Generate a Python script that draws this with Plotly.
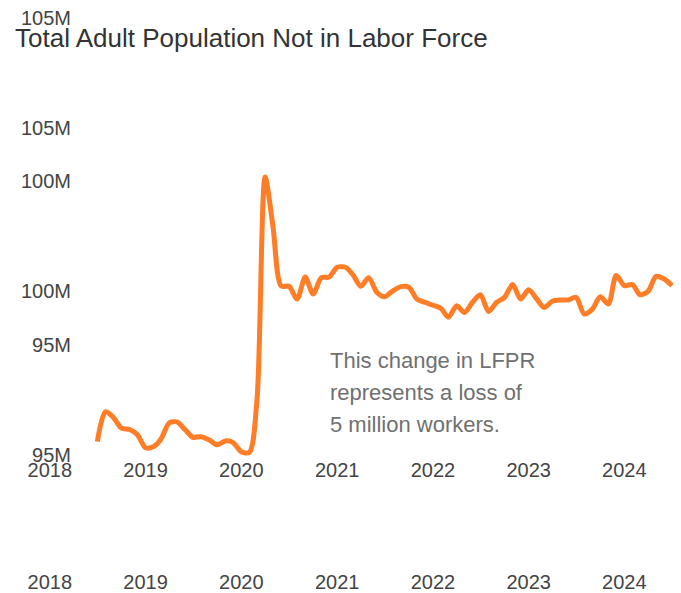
import plotly.graph_objects as go
import pandas as pd

# Monthly values, Jul 2018 - Jul 2024 (millions)
months = pd.date_range("2018-07-01", periods=73, freq="MS")
not_in_lf = [
    95.41, 96.32, 96.14, 95.82, 95.78, 95.62, 95.22, 95.26, 95.49, 95.98, 96.01, 95.77,
    95.54, 95.56, 95.46, 95.31, 95.43, 95.38, 95.10, 95.08, 96.69, 103.50, 101.98, 100.17,
    100.16, 99.77, 100.44, 99.92, 100.42, 100.44, 100.74, 100.74, 100.52, 100.16, 100.42, 99.98,
    99.84, 100.02, 100.15, 100.13, 99.77, 99.67, 99.58, 99.48, 99.21, 99.56, 99.36, 99.67,
    99.90, 99.39, 99.67, 99.82, 100.21, 99.77, 100.05, 99.77, 99.51, 99.70, 99.74, 99.74,
    99.82, 99.31, 99.46, 99.84, 99.62, 100.49, 100.18, 100.21, 99.90, 100.01, 100.46, 100.38,
    100.18,
]
y_tickvals = [95, 100, 105]
y_ticktext = ["95M", "100M", "105M"]
title_text = "Total Adult Population Not in Labor Force"
note_lines = ["This change in LFPR", "represents a loss of", "5 million workers."]

TICK_FONT = dict(family="Liberation Sans, Arial, sans-serif", size=20, color="#444444")

fig = go.Figure()
fig.add_trace(go.Scatter(
    x=months, y=not_in_lf, mode="lines",
    line=dict(color="#FE7D26", width=5, shape="spline", smoothing=0.8),
    showlegend=False, hoverinfo="skip",
))
# empty companion trace so the duplicated axis pair is drawn
fig.add_trace(go.Scatter(x=[], y=[], xaxis="x2", yaxis="y2", showlegend=False, hoverinfo="skip"))

xcommon = dict(
    type="date", range=["2017-08-02", "2024-07-16"], tick0="2018-01-01", dtick="M12",
    tickformat="%Y", showgrid=False, zeroline=False, showline=False, ticks="",
    tickfont=TICK_FONT, automargin=False,
)
ycommon = dict(
    tickvals=y_tickvals, ticktext=y_ticktext, showgrid=False, zeroline=False,
    showline=False, ticks="", tickfont=TICK_FONT, automargin=False,
)

fig.update_layout(
    width=681, height=593,
    margin=dict(l=10, r=5, t=5, b=25),
    paper_bgcolor="white", plot_bgcolor="white",
    xaxis=dict(**xcommon, anchor="free", position=0.199),
    xaxis2=dict(**xcommon, overlaying="x", anchor="y2", side="bottom"),
    yaxis=dict(**ycommon, range=[91.544, 108.761], anchor="free", position=0.0916),
    yaxis2=dict(**ycommon, range=[88.180, 105.397], overlaying="y", anchor="free", position=0.0916, side="left"),
    title=dict(
        text=title_text, x=15 / 681, xanchor="left", xref="container",
        y=1 - 38 / 593, yanchor="middle", yref="container",
        font=dict(family="Liberation Sans, Arial, sans-serif", size=26, color="#333333"),
    ),
)

for i, line in enumerate(note_lines):
    fig.add_annotation(
        text=line, xref="paper", yref="paper",
        x=(328 - 10) / 666, xanchor="left",
        y=(568 - (360 + 32 * i)) / 563, yanchor="middle",
        showarrow=False,
        font=dict(family="Liberation Sans, Arial, sans-serif", size=22, color="#707070"),
    )

fig.write_html(
    "out.html",
    config={"displayModeBar": False},
    post_script="document.body.style.margin='0';",
)
